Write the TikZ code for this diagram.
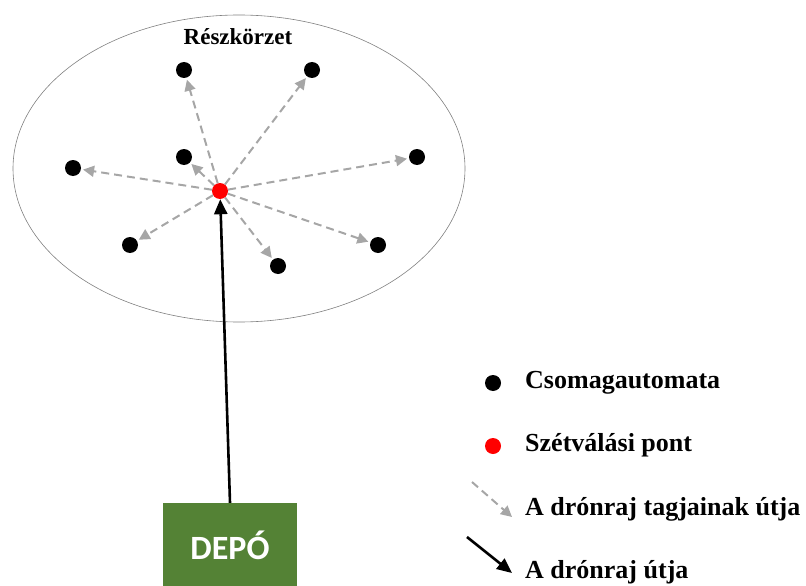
\documentclass[tikz,border=0pt]{standalone}
\usepackage{fontspec}
\setmainfont{Liberation Serif}
\newfontfamily\depofont{Carlito}
\usetikzlibrary{arrows.meta}
\usetikzlibrary{positioning}
\usetikzlibrary{shapes.geometric}
\definecolor{depo-green}{HTML}{548235}
\definecolor{path-gray}{HTML}{A6A6A6}

\begin{document}
\begin{tikzpicture}[x=1pt, y=-1pt,
  locker/.style={circle, fill=black, inner sep=0pt, minimum size=16pt},
  split/.style={circle, fill=red, inner sep=0pt, minimum size=16pt},
  member/.style={path-gray, line width=2pt, dash pattern=on 8pt off 5pt, -{Triangle[length=11pt, width=11pt]}, shorten >=2pt},
  swarm/.style={black, line width=2.6pt, -{Triangle[length=15pt, width=13pt]}},
  legend/.style={font=\fontsize{26}{30}\selectfont\bfseries, anchor=base west, inner sep=0pt}
]
\useasboundingbox (0,0) rectangle (806,586);

% District
\node[ellipse, draw=black!50, line width=0.6pt, minimum width=452pt, minimum height=307pt] (district) at (239,168.5) {};
\node[font=\fontsize{23}{27}\selectfont\bfseries, anchor=base, inner sep=0pt] (title) at (238,45) {Részkörzet};

% Parcel lockers
\node[locker] (p1) at (184,70) {};
\node[locker] (p2) at (312,70) {};
\node[locker] (p3) at (184,157) {};
\node[locker] (p4) at (73,168) {};
\node[locker] (p5) at (417,157) {};
\node[locker] (p6) at (130,245) {};
\node[locker] (p7) at (278,266) {};
\node[locker] (p8) at (378,245) {};

% Split point
\node[split] (split) at (220,191) {};

% Depot
\node[fill=depo-green, minimum width=134pt, minimum height=84pt, text=white, font=\depofont\bfseries\fontsize{34}{40}\selectfont] (depo) at (230,545) {DEPÓ};

% Paths
\foreach \p in {p1,p2,p3,p4,p5,p6,p7,p8}
  \draw[member] (split) -- (\p);
\draw[swarm] (depo.north) -- (split);

% Legend
\node[locker] (leg-locker) at (493,383) {};
\node[legend] (leg-locker-text) at (525,388) {Csomagautomata};
\node[split] (leg-split) at (493,446) {};
\node[legend] (leg-split-text) at (525,451) {Szétválási pont};
\coordinate (leg-member-a) at (472,482);
\coordinate (leg-member-b) at (512,517);
\draw[member, shorten >=0pt] (leg-member-a) -- (leg-member-b);
\node[legend] (leg-member-text) at (525,515) {A drónraj tagjainak útja};
\coordinate (leg-swarm-a) at (467,537);
\coordinate (leg-swarm-b) at (512,573);
\draw[swarm] (leg-swarm-a) -- (leg-swarm-b);
\node[legend] (leg-swarm-text) at (525,578) {A drónraj útja};
\end{tikzpicture}
\end{document}
